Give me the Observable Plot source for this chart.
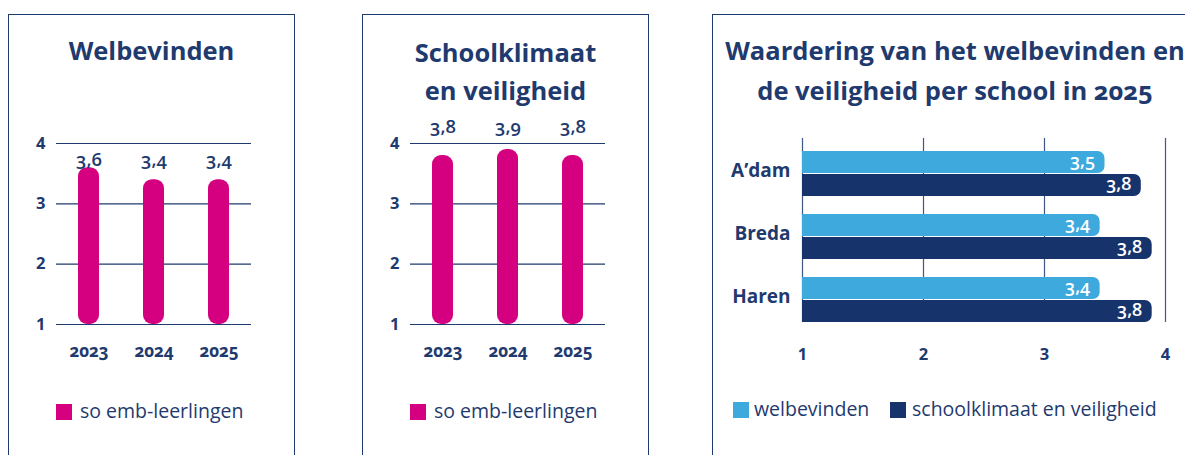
<!DOCTYPE html>
<html><head><meta charset="utf-8">
<script src="https://cdn.jsdelivr.net/npm/d3@7"></script>
<script src="https://cdn.jsdelivr.net/npm/@observablehq/plot@0.6"></script>
<style>
body{margin:0;width:1185px;height:455px;overflow:hidden;background:#fff;font-family:"Open Sans","Noto Sans",sans-serif;color:#1f3a6e;position:relative}
.panel{position:absolute;top:14px;height:480px;border:1.5px solid #1f3a6e;box-sizing:border-box}
.title{position:absolute;font-weight:700;font-size:25.5px;text-align:center;white-space:pre;color:#1f3a6e;font-variant-numeric:oldstyle-nums}
.plot{position:absolute}
.legend{position:absolute;font-size:19.5px;height:20px;line-height:20px;white-space:nowrap;color:#1f3a6e}
.sw{position:absolute;width:16px;height:16px;top:2px}
.lt{position:absolute;top:-1px}
</style></head><body>
<script>
// ---- data ----
const years = ["2023", "2024", "2025"];
const welbevinden = [3.6, 3.4, 3.4];
const schoolklimaat = [3.8, 3.9, 3.8];
const schools = ["A’dam", "Breda", "Haren"];
const schoolWelbevinden = [3.5, 3.46, 3.46];
const schoolKlimaat = [3.8, 3.89, 3.89];
const schoolWelLabels = ["3,5", "3,4", "3,4"];
const schoolKlimLabels = ["3,8", "3,8", "3,8"];
const scaleTicks = [1, 2, 3, 4];
const seriesNames = ["welbevinden", "schoolklimaat en veiligheid"];
const groupName = "so emb-leerlingen";
const titles = ["Welbevinden", "Schoolklimaat\nen veiligheid", "Waardering van het welbevinden en\nde veiligheid per school in 2025"];

// ---- style ----
const NAVY = "#1f3a6e", DARK = "#17336b", MAGENTA = "#d5007f", LIGHT = "#3ea9dd";
const FONT = "'Open Sans','Noto Sans',sans-serif";
const fmt = d => String(d);

function el(tag, cls, css, text) {
  const e = document.createElement(tag);
  if (cls) e.className = cls;
  Object.assign(e.style, css || {});
  if (text != null) e.textContent = text;
  document.body.appendChild(e);
  return e;
}

// panels
el("div", "panel", {left: "8px", width: "287px"});
el("div", "panel", {left: "362px", width: "287px"});
el("div", "panel", {left: "712px", width: "520px"});

// titles
el("div", "title", {left: "8px", width: "287px", top: "31px", lineHeight: "38px"}, titles[0]);
el("div", "title", {left: "362px", width: "287px", top: "33px", lineHeight: "38px"}, titles[1]);
el("div", "title", {left: "712px", width: "486px", top: "30px", lineHeight: "40px"}, titles[2]);

function yearChart(values, labelDy) {
  const data = years.map((y, i) => ({year: y, v: values[i]}));
  return Plot.plot({
    width: 300, height: 250,
    marginLeft: 56, marginRight: 49, marginTop: 23, marginBottom: 46,
    style: {fontFamily: FONT, color: NAVY, background: "transparent", overflow: "visible", fontVariantNumeric: "oldstyle-nums"},
    x: {domain: years, paddingInner: 0.68, paddingOuter: 0.32, axis: null},
    y: {domain: [1, 4], axis: null},
    marks: [
      Plot.ruleY(scaleTicks, {stroke: NAVY, strokeWidth: 1.2}),
      Plot.barY(data, {x: "year", y1: 1, y2: "v", fill: MAGENTA, rx: 9}),
      Plot.text(data, {x: "year", y: 4, text: d => d.v.toFixed(1).replace(".", ","), dy: labelDy, fill: NAVY, fontSize: 18.5, fontWeight: 600}),
      Plot.axisX({tickSize: 0, tickPadding: 20, fontSize: 17, fontWeight: 700, label: null, fill: NAVY}),
      Plot.axisY({ticks: scaleTicks, tickFormat: fmt, tickSize: 0, tickPadding: 11, fontSize: 16.5, fontWeight: 700, label: null, fill: NAVY})
    ]
  });
}

const p1 = yearChart(welbevinden, 17);
p1.classList.add("plot"); Object.assign(p1.style, {left: "0px", top: "120px"});
document.body.appendChild(p1);
const p2 = yearChart(schoolklimaat, -16);
p2.classList.add("plot"); Object.assign(p2.style, {left: "354px", top: "120px"});
document.body.appendChild(p2);

// panel 3
const data3 = schools.map((s, i) => ({school: s, w: schoolWelbevinden[i], k: schoolKlimaat[i], wl: schoolWelLabels[i], kl: schoolKlimLabels[i]}));
const p3 = Plot.plot({
  width: 485, height: 250,
  marginLeft: 102, marginRight: 20, marginTop: 18, marginBottom: 48,
  style: {fontFamily: FONT, color: NAVY, background: "transparent", overflow: "visible", fontVariantNumeric: "oldstyle-nums"},
  x: {domain: [1, 4], axis: null},
  y: {domain: schools, paddingInner: 0.286, paddingOuter: 0.103, align: 1, axis: null},
  marks: [
    Plot.ruleX(scaleTicks, {stroke: NAVY, strokeWidth: 1.2, strokeOpacity: 0.85}),
    Plot.barX(data3, {y: "school", x1: 1, x2: "w", fill: LIGHT, insetBottom: 23, rx: 7}),
    Plot.barX(data3, {y: "school", x1: 1, x2: d => (1 + d.w) / 2, fill: LIGHT, insetBottom: 23}),
    Plot.barX(data3, {y: "school", x1: 1, x2: "k", fill: DARK, insetTop: 23, rx: 7}),
    Plot.barX(data3, {y: "school", x1: 1, x2: d => (1 + d.k) / 2, fill: DARK, insetTop: 23}),
    Plot.text(data3, {y: "school", x: "w", text: "wl", dx: -10, dy: -13, textAnchor: "end", fill: "white", fontSize: 18, fontWeight: 600}),
    Plot.text(data3, {y: "school", x: "k", text: "kl", dx: -10, dy: 10, textAnchor: "end", fill: "white", fontSize: 18, fontWeight: 600}),
    Plot.axisX({ticks: scaleTicks, tickFormat: fmt, tickSize: 0, tickPadding: 26, fontSize: 16.5, fontWeight: 700, label: null, fill: NAVY}),
    Plot.axisY({tickSize: 0, tickPadding: 12, fontSize: 19, fontWeight: 700, dy: -3, label: null, fill: NAVY})
  ]
});
p3.classList.add("plot"); Object.assign(p3.style, {left: "700px", top: "120px"});
document.body.appendChild(p3);

// legends
function legend(left, top, color, text, textLeft) {
  const l = el("div", "legend", {left: left + "px", top: top + "px"});
  const s = document.createElement("div"); s.className = "sw"; s.style.background = color; s.style.left = "0px";
  const t = document.createElement("div"); t.className = "lt"; t.textContent = text; t.style.left = textLeft + "px";
  l.appendChild(s); l.appendChild(t);
}
legend(56, 402, MAGENTA, groupName, 24);
legend(410, 402, MAGENTA, groupName, 24);
legend(733, 400, LIGHT, seriesNames[0], 21);
legend(890, 400, DARK, seriesNames[1], 22);
</script>
</body></html>
